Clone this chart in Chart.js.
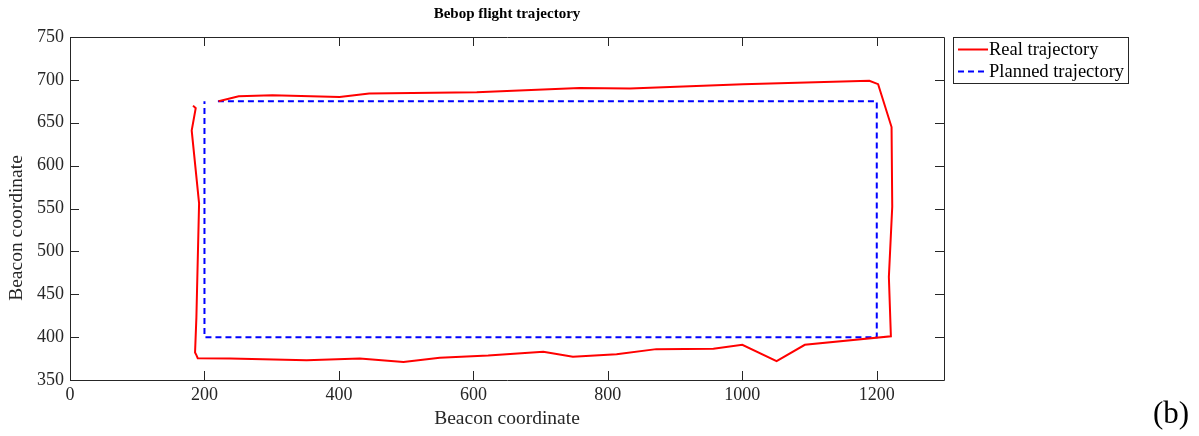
<!DOCTYPE html>
<html>
<head>
<meta charset="utf-8">
<script src="https://cdn.jsdelivr.net/npm/chart.js@4/dist/chart.umd.min.js"></script>
<style>
html,body{margin:0;padding:0;background:#fff;}
#wrap{position:relative;width:1199px;height:436px;}
</style>
</head>
<body>
<div id="wrap"><canvas id="c" width="1199" height="436"></canvas></div>
<script>
const chartTitle = "Bebop flight trajectory";
const xAxisTitle = "Beacon coordinate";
const yAxisTitle = "Beacon coordinate";
const panelLabel = "(b)";
const seriesNames = ["Real trajectory", "Planned trajectory"];
const xTicks = [0, 200, 400, 600, 800, 1000, 1200];
const yTicks = [350, 400, 450, 500, 550, 600, 650, 700, 750];

const realX = [221, 251, 301, 401, 445, 605, 758, 833, 1001, 1189, 1202, 1222, 1223, 1218, 1221, 1093, 1051, 1000, 957, 872, 813, 748, 704, 622, 550, 496, 431, 352, 238, 190, 188, 186, 188, 192, 181, 187, 183];
const realY = [675, 681, 682, 680, 684, 685.5, 690.5, 690, 695, 699, 695, 645, 552, 470, 401, 391, 372, 391, 386.5, 386, 380, 377, 383, 378.5, 376, 371, 375, 373, 375, 375.5, 379, 382, 423, 556, 641, 667, 670];
const planX = [220, 1200, 1200, 200, 200];
const planY = [675, 675, 400, 400, 675];

const SERIF = "'Liberation Serif', 'Times New Roman', serif";
const TXT = '#262626';

const toPts = (xs, ys) => xs.map((x, i) => ({x: x, y: ys[i]}));

const decor = {
  id: 'decor',
  afterDatasetsDraw(chart) {
    const {ctx, chartArea: a, scales: {x, y}} = chart;
    ctx.save();
    ctx.strokeStyle = TXT;
    ctx.lineWidth = 1;
    ctx.beginPath();
    ctx.rect(Math.round(a.left) + 0.5, Math.round(a.top) + 0.5, Math.round(a.right - a.left), Math.round(a.bottom - a.top));
    ctx.stroke();
    const tl = 9;
    ctx.beginPath();
    xTicks.forEach(v => {
      const px = Math.round(x.getPixelForValue(v)) + 0.5;
      ctx.moveTo(px, a.bottom); ctx.lineTo(px, a.bottom - tl);
      ctx.moveTo(px, a.top); ctx.lineTo(px, a.top + tl);
    });
    yTicks.forEach(v => {
      const py = Math.round(y.getPixelForValue(v)) + 0.5;
      ctx.moveTo(a.left, py); ctx.lineTo(a.left + tl, py);
      ctx.moveTo(a.right, py); ctx.lineTo(a.right - tl, py);
    });
    ctx.stroke();

    // title
    ctx.fillStyle = '#000';
    ctx.font = "bold 15px " + SERIF;
    ctx.textAlign = 'center';
    ctx.textBaseline = 'middle';
    ctx.fillText(chartTitle, (a.left + a.right) / 2, 14);

    // axis titles
    ctx.fillStyle = TXT;
    ctx.font = "19.5px " + SERIF;
    ctx.fillText(xAxisTitle, (a.left + a.right) / 2, 419);
    ctx.save();
    ctx.translate(17, 228);
    ctx.rotate(-Math.PI / 2);
    ctx.fillText(yAxisTitle, 0, 0);
    ctx.restore();

    // legend
    const lx = 953, ly = 37, lw = 175, lh = 46;
    ctx.fillStyle = '#fff';
    ctx.fillRect(lx, ly, lw, lh);
    ctx.strokeStyle = '#262626';
    ctx.lineWidth = 1;
    ctx.strokeRect(lx + 0.5, ly + 0.5, lw, lh);
    const rows = [{c: '#ff0000', d: [], y: 49.5}, {c: '#0000ff', d: [6, 4], y: 71.5}];
    ctx.font = "18.5px " + SERIF;
    ctx.textAlign = 'left';
    rows.forEach((r, i) => {
      ctx.strokeStyle = r.c;
      ctx.lineWidth = 2;
      ctx.setLineDash(r.d);
      ctx.beginPath();
      ctx.moveTo(958, r.y); ctx.lineTo(988, r.y);
      ctx.stroke();
      ctx.setLineDash([]);
      ctx.fillStyle = '#000';
      ctx.fillText(seriesNames[i], 989, r.y + 1);
    });

    // panel label
    ctx.font = "31px " + SERIF;
    ctx.fillStyle = '#000';
    ctx.textAlign = 'center';
    ctx.fillText(panelLabel, 1171, 415);
    ctx.restore();
  }
};

new Chart(document.getElementById('c'), {
  type: 'scatter',
  data: {
    datasets: [
      {label: seriesNames[0], data: toPts(realX, realY), showLine: true, borderColor: '#ff0000', borderWidth: 2, pointRadius: 0, tension: 0, fill: false},
      {label: seriesNames[1], data: toPts(planX, planY), showLine: true, borderColor: '#0000ff', borderWidth: 2, borderDash: [6, 4], pointRadius: 0, tension: 0, fill: false}
    ]
  },
  options: {
    responsive: false,
    animation: false,
    layout: {padding: {left: 0, top: 37, right: 1199 - 944, bottom: 0}},
    plugins: {legend: {display: false}, tooltip: {enabled: false}, title: {display: false}},
    scales: {
      x: {
        type: 'linear', min: 0, max: 1300,
        afterBuildTicks: s => { s.ticks = xTicks.map(v => ({value: v})); },
        afterFit: s => { s.height = 56; },
        grid: {display: false, drawTicks: false},
        border: {display: false},
        ticks: {color: TXT, font: {family: SERIF, size: 18}, padding: 4, maxRotation: 0, autoSkip: false, callback: v => String(v)},
        title: {display: false}
      },
      y: {
        type: 'linear', min: 350, max: 750,
        afterBuildTicks: s => { s.ticks = yTicks.map(v => ({value: v})); },
        afterFit: s => { s.width = 70; },
        grid: {display: false, drawTicks: false},
        border: {display: false},
        ticks: {color: TXT, font: {family: SERIF, size: 18}, padding: 6, autoSkip: false, callback: v => String(v)},
        title: {display: false}
      }
    }
  },
  plugins: [decor]
});
</script>
</body>
</html>
